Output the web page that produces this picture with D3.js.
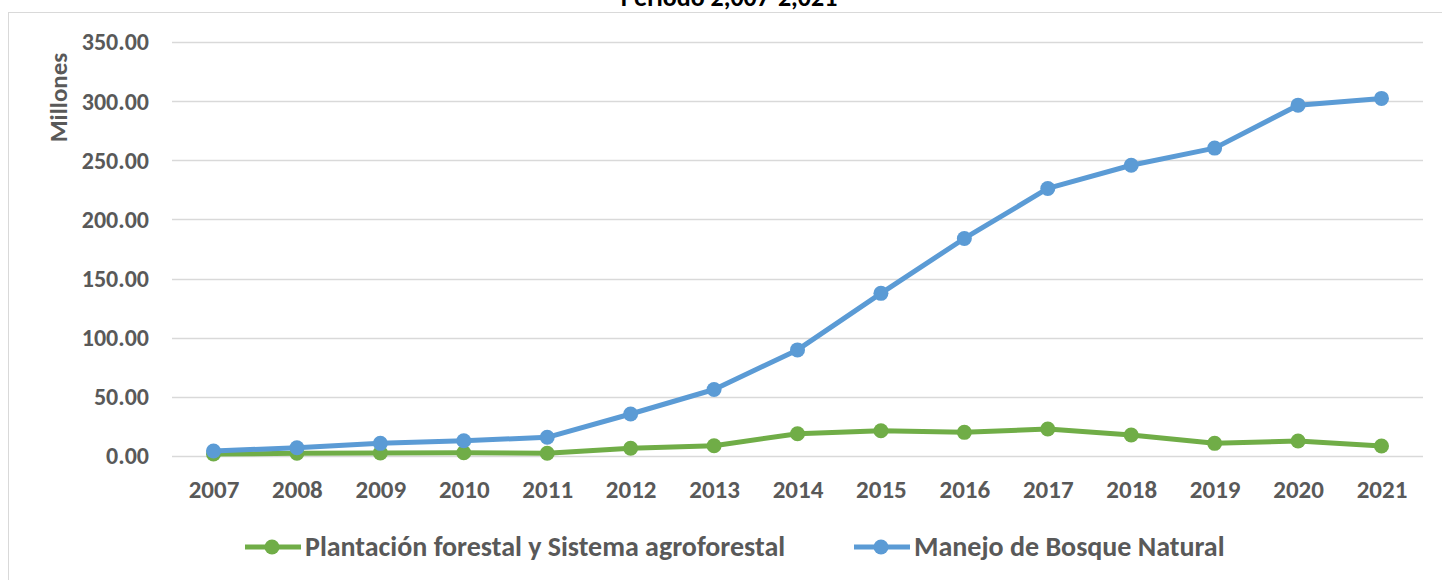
<!DOCTYPE html>
<html lang="es">
<head>
<meta charset="UTF-8">
<script src="https://d3js.org/d3.v7.min.js"></script>
<style>
  body { margin: 0; background: #fff; }
  svg text { font-family: Carlito, Calibri, "Open Sans", sans-serif; font-weight: bold; fill: #595959; }
</style>
</head>
<body>
<div id="chart"></div>
<script>
// data
const years = ["2007","2008","2009","2010","2011","2012","2013","2014","2015","2016","2017","2018","2019","2020","2021"];
const plantacion = [1.7, 2.3, 2.6, 2.8, 2.3, 6.5, 8.7, 18.8, 21.4, 20.0, 22.8, 17.8, 10.7, 12.7, 8.5];
const manejo = [4.2, 7.0, 10.7, 12.9, 15.8, 35.5, 56.2, 89.7, 137.5, 183.9, 226.2, 245.8, 260.3, 296.6, 302.3];
const yTicks = [0, 50, 100, 150, 200, 250, 300, 350];

const series = [
  { name: "Plantación forestal y Sistema agroforestal", values: plantacion, color: "#70AD47" },
  { name: "Manejo de Bosque Natural", values: manejo, color: "#5B9BD5" }
];

const W = 1442, H = 580;
const svg = d3.select("#chart").append("svg").attr("width", W).attr("height", H);

// chart area border (cut at the top)
svg.append("rect")
  .attr("x", 8.5).attr("y", 12.5).attr("width", W + 10).attr("height", H)
  .attr("fill", "none").attr("stroke", "#d9d9d9").attr("stroke-width", 1);

svg.append("text")
  .attr("x", 729).attr("y", 6)
  .attr("text-anchor", "middle")
  .style("font-size", "26px").style("fill", "#000")
  .text("Periodo 2,007-2,021");

const plotLeft = 172, plotRight = 1423, plotTop = 42, plotBottom = 456;

const x = d3.scalePoint().domain(years).range([213.5, 1381.5]);
const y = d3.scaleLinear().domain([0, 350]).range([plotBottom, plotTop]);

// gridlines
svg.append("g")
  .selectAll("line")
  .data(yTicks)
  .join("line")
  .attr("x1", plotLeft).attr("x2", plotRight)
  .attr("y1", d => Math.round(y(d)) + 0.5).attr("y2", d => Math.round(y(d)) + 0.5)
  .attr("stroke", "#d9d9d9").attr("stroke-width", 1.5);

// y axis labels
const yAxis = svg.append("g")
  .attr("transform", `translate(${plotLeft},0)`)
  .call(d3.axisLeft(y).tickValues(yTicks).tickFormat(d3.format(".2f")).tickSize(0).tickPadding(23));
yAxis.select(".domain").remove();
yAxis.selectAll("text").style("font-size", "24px").attr("dy", "0.33em");

// x axis labels
const xAxis = svg.append("g")
  .attr("transform", `translate(0,${plotBottom})`)
  .call(d3.axisBottom(x).tickSize(0).tickPadding(34));
xAxis.select(".domain").remove();
xAxis.selectAll("text").style("font-size", "25px").attr("dy", "0.33em");

svg.append("text")
  .attr("transform", "translate(67,97.5) rotate(-90)")
  .attr("text-anchor", "middle")
  .style("font-size", "25px")
  .text("Millones");

// lines + markers
const line = d3.line().x((d, i) => x(years[i])).y(d => y(d));

series.forEach(s => {
  svg.append("path")
    .datum(s.values)
    .attr("d", line)
    .attr("fill", "none")
    .attr("stroke", s.color)
    .attr("stroke-width", 5)
    .attr("stroke-linejoin", "round");
  svg.append("g")
    .selectAll("circle")
    .data(s.values)
    .join("circle")
    .attr("cx", (d, i) => x(years[i]))
    .attr("cy", d => y(d))
    .attr("r", 7.5)
    .attr("fill", s.color);
});

// legend
const legendX = [245, 854];
series.forEach((s, i) => {
  const g = svg.append("g").attr("transform", `translate(${legendX[i]},547)`);
  g.append("line").attr("x1", 0).attr("x2", 56).attr("stroke", s.color).attr("stroke-width", 5);
  g.append("circle").attr("cx", 27).attr("r", 7.5).attr("fill", s.color);
  g.append("text").attr("x", 60).attr("dy", "0.33em").style("font-size", "28px").text(s.name);
});
</script>
</body>
</html>
